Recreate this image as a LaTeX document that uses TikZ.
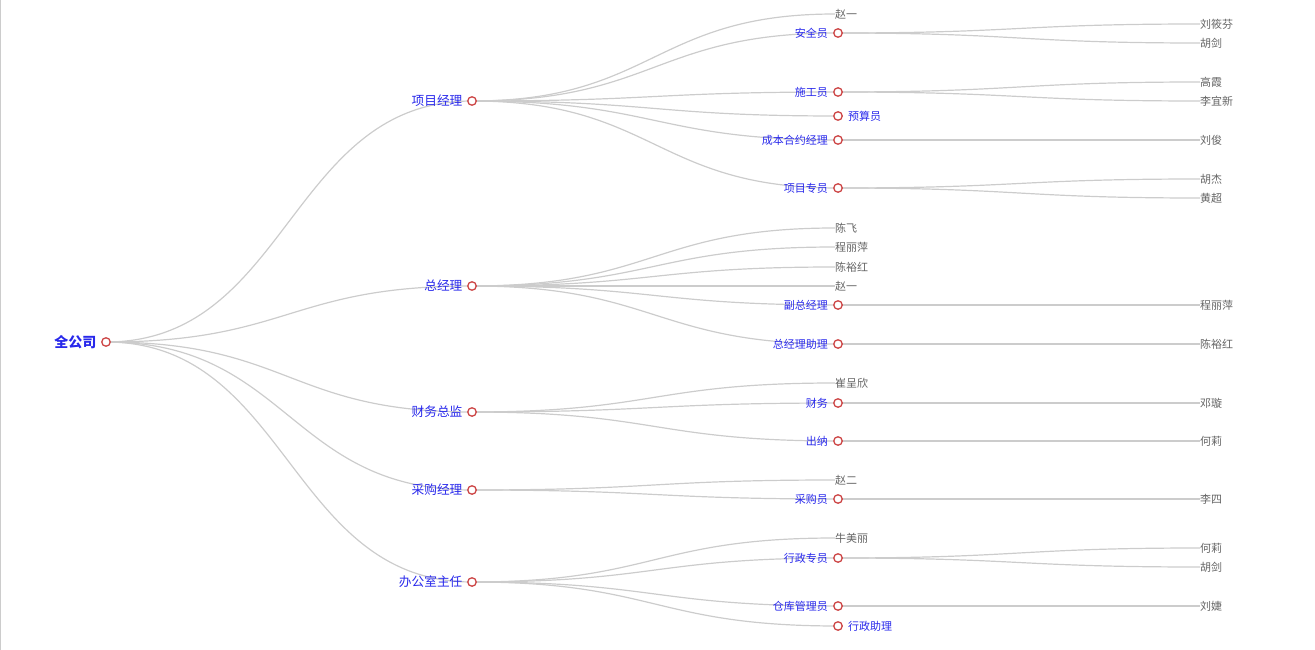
\documentclass[tikz,border=0pt]{standalone}
\usepackage{fontspec}
\newfontfamily\cjk{Noto Sans CJK SC}
\usetikzlibrary{calc}
\pgfdeclarelayer{bg}
\pgfsetlayers{bg,main}
\definecolor{lblue}{RGB}{40,40,235}
\definecolor{lgrey}{RGB}{100,100,100}
\definecolor{dotred}{RGB}{205,70,70}
\definecolor{edgec}{RGB}{204,204,204}
\tikzset{
  dot/.style={circle,draw=dotred,fill=white,line width=1.3pt,minimum size=8.5pt,inner sep=0pt},
  lbl/.style={font=\cjk\fontsize{11}{13}\selectfont,text=lblue,inner sep=0pt},
  lblone/.style={font=\cjk\fontsize{12.7}{14}\selectfont,text=lblue,inner sep=0pt},
  lblroot/.style={font=\cjk\bfseries\fontsize{14}{16}\selectfont,text=lblue,inner sep=0pt},
  leaf/.style={font=\cjk\fontsize{11}{13}\selectfont,text=lgrey,inner sep=0pt,anchor=west},
  elink/.style={draw=edgec,line width=1.2pt,to path={let \p1=(\tikztostart), \p2=(\tikztotarget) in .. controls ({(\x1+\x2)/2},\y1) and ({(\x1+\x2)/2},\y2) .. (\tikztotarget)}}
}
\begin{document}
\begin{tikzpicture}[x=1pt,y=-1pt]
\useasboundingbox (0,0) rectangle (1315,650);
\draw[edgec,line width=0.8pt] (0.5,0) -- (0.5,650);
% root
\node[dot,label={[lblroot,xshift=-4.5pt]left:全公司}] (root) at (106,342) {};
% level 1
\node[dot,label={[lblone,xshift=-4.5pt]left:项目经理}] (p1) at (472,101) {};
\node[dot,label={[lblone,xshift=-4.5pt]left:总经理}] (p2) at (472,286) {};
\node[dot,label={[lblone,xshift=-4.5pt]left:财务总监}] (p3) at (472,412) {};
\node[dot,label={[lblone,xshift=-4.5pt]left:采购经理}] (p4) at (472,490) {};
\node[dot,label={[lblone,xshift=-4.5pt]left:办公室主任}] (p5) at (472,582) {};
% level 2 under 项目经理
\node[leaf] (a0) at (835,14) {赵一};
\node[dot,label={[lbl,xshift=-5pt]left:安全员}] (a1) at (838,33) {};
\node[dot,label={[lbl,xshift=-5pt]left:施工员}] (a2) at (838,92) {};
\node[dot,label={[lbl,xshift=5pt]right:预算员}] (a3) at (838,116) {};
\node[dot,label={[lbl,xshift=-5pt]left:成本合约经理}] (a4) at (838,140) {};
\node[dot,label={[lbl,xshift=-5pt]left:项目专员}] (a5) at (838,188) {};
% level 2 under 总经理
\node[leaf] (b0) at (835,228) {陈飞};
\node[leaf] (b1) at (835,247) {程丽萍};
\node[leaf] (b2) at (835,267) {陈裕红};
\node[leaf] (b3) at (835,286) {赵一};
\node[dot,label={[lbl,xshift=-5pt]left:副总经理}] (b4) at (838,305) {};
\node[dot,label={[lbl,xshift=-5pt]left:总经理助理}] (b5) at (838,344) {};
% level 2 under 财务总监
\node[leaf] (c0) at (835,383) {崔呈欣};
\node[dot,label={[lbl,xshift=-5pt]left:财务}] (c1) at (838,403) {};
\node[dot,label={[lbl,xshift=-5pt]left:出纳}] (c2) at (838,441) {};
% level 2 under 采购经理
\node[leaf] (d0) at (835,480) {赵二};
\node[dot,label={[lbl,xshift=-5pt]left:采购员}] (d1) at (838,499) {};
% level 2 under 办公室主任
\node[leaf] (e0) at (835,538) {牛美丽};
\node[dot,label={[lbl,xshift=-5pt]left:行政专员}] (e1) at (838,558) {};
\node[dot,label={[lbl,xshift=-5pt]left:仓库管理员}] (e2) at (838,606) {};
\node[dot,label={[lbl,xshift=5pt]right:行政助理}] (e3) at (838,626) {};
% level 3
\node[leaf] (a11) at (1200,24) {刘筱芬};
\node[leaf] (a12) at (1200,43) {胡剑};
\node[leaf] (a21) at (1200,82) {高霞};
\node[leaf] (a22) at (1200,101) {李宜新};
\node[leaf] (a41) at (1200,140) {刘俊};
\node[leaf] (a51) at (1200,179) {胡杰};
\node[leaf] (a52) at (1200,198) {黄超};
\node[leaf] (b41) at (1200,305) {程丽萍};
\node[leaf] (b51) at (1200,344) {陈裕红};
\node[leaf] (c11) at (1200,403) {邓璇};
\node[leaf] (c21) at (1200,441) {何莉};
\node[leaf] (d11) at (1200,499) {李四};
\node[leaf] (e11) at (1200,548) {何莉};
\node[leaf] (e12) at (1200,567) {胡剑};
\node[leaf] (e21) at (1200,606) {刘婕};
% edges
\begin{pgfonlayer}{bg}
\foreach \c in {p1,p2,p3,p4,p5} \draw[elink] (root.center) to (\c.center);
\foreach \c in {a1,a2,a3,a4,a5} \draw[elink] (p1.center) to (\c.center);
\draw[elink] (p1.center) to (a0.west);
\foreach \c in {b0,b1,b2,b3} \draw[elink] (p2.center) to (\c.west);
\foreach \c in {b4,b5} \draw[elink] (p2.center) to (\c.center);
\draw[elink] (p3.center) to (c0.west);
\foreach \c in {c1,c2} \draw[elink] (p3.center) to (\c.center);
\draw[elink] (p4.center) to (d0.west);
\draw[elink] (p4.center) to (d1.center);
\draw[elink] (p5.center) to (e0.west);
\foreach \c in {e1,e2,e3} \draw[elink] (p5.center) to (\c.center);
\draw[elink] (a1.center) to (a11.west);
\draw[elink] (a1.center) to (a12.west);
\draw[elink] (a2.center) to (a21.west);
\draw[elink] (a2.center) to (a22.west);
\draw[elink] (a4.center) to (a41.west);
\draw[elink] (a5.center) to (a51.west);
\draw[elink] (a5.center) to (a52.west);
\draw[elink] (b4.center) to (b41.west);
\draw[elink] (b5.center) to (b51.west);
\draw[elink] (c1.center) to (c11.west);
\draw[elink] (c2.center) to (c21.west);
\draw[elink] (d1.center) to (d11.west);
\draw[elink] (e1.center) to (e11.west);
\draw[elink] (e1.center) to (e12.west);
\draw[elink] (e2.center) to (e21.west);
\end{pgfonlayer}
\end{tikzpicture}
\end{document}
